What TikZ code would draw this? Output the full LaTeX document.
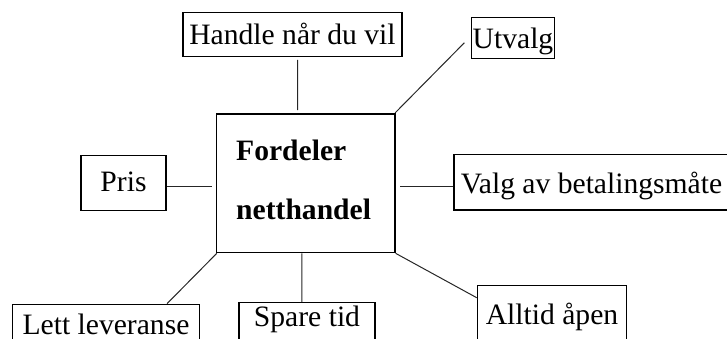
\documentclass[tikz,border=0pt]{standalone}
\usepackage{fontspec}
\setmainfont{Liberation Serif}
\begin{document}
\begin{tikzpicture}[x=1pt,y=-1pt,
  every node/.style={font=\fontsize{29.6}{34}\selectfont},
  tag/.style={draw=black, line width=1.2pt, inner sep=0pt, anchor=base},
  hubbox/.style={draw=black, line width=1.2pt, inner sep=0pt},
  title/.style={anchor=base west, inner sep=0pt, font=\fontsize{29.6}{34}\selectfont\bfseries},
  link/.style={draw=black!85, line width=1pt}]
\useasboundingbox (0,0) rectangle (727,338);
\clip (0,0) rectangle (727,338);

% central box
\node[hubbox, minimum width=178.3pt, minimum height=138.7pt] (hub) at (305.85,183.35) {};
\node[title] (f1) at (236,160.7) {Fordeler};
\node[title] (f2) at (236,219.3) {netthandel};

% surrounding boxes
\node[tag, minimum width=219pt, text height=32pt, text depth=12.4pt] (handle) at (292.5,44.3) {Handle når du vil};
\node[tag, minimum width=83pt, text height=30.7pt, text depth=10.7pt] (utvalg) at (513,48) {Utvalg};
\node[tag, minimum width=85pt, text height=36pt, text depth=19pt] (pris) at (123.5,191.7) {Pris};
\node[tag, minimum width=275pt, text height=39pt, text depth=16.7pt] (valg) at (591.5,193.3) {Valg av betalingsmåte};
\node[tag, minimum width=186.6pt, text height=29.7pt, text depth=20pt] (lett) at (106,334) {Lett leveranse};
\node[tag, minimum width=136pt, text height=24pt, text depth=20pt] (spare) at (307,326.7) {Spare tid};
\node[tag, minimum width=149.4pt, text height=38.3pt, text depth=20pt] (alltid) at (552,324) {Alltid åpen};

% connectors
\draw[link] ([xshift=5.2pt,yshift=-2.6pt]handle.south) -- ([xshift=-8.15pt,yshift=3.3pt]hub.north);
\draw[link] ([xshift=-0.5pt,yshift=0.5pt]hub.north east) -- ([xshift=-6.5pt,yshift=-4.7pt]utvalg.west);
\draw[link] ([yshift=-2.8pt]pris.east) -- ([xshift=-4pt,yshift=-2.65pt]hub.west);
\draw[link] ([xshift=4.6pt,yshift=-2.65pt]hub.east) -- ([yshift=-3.85pt]valg.west);
\draw[link] ([xshift=0.7pt]hub.south west) -- ([xshift=61pt]lett.north);
\draw[link] ([xshift=-4pt]hub.south) -- ([xshift=-5.2pt]spare.north);
\draw[link] (hub.south east) -- ([yshift=-12.6pt]alltid.north west);
\end{tikzpicture}
\end{document}
